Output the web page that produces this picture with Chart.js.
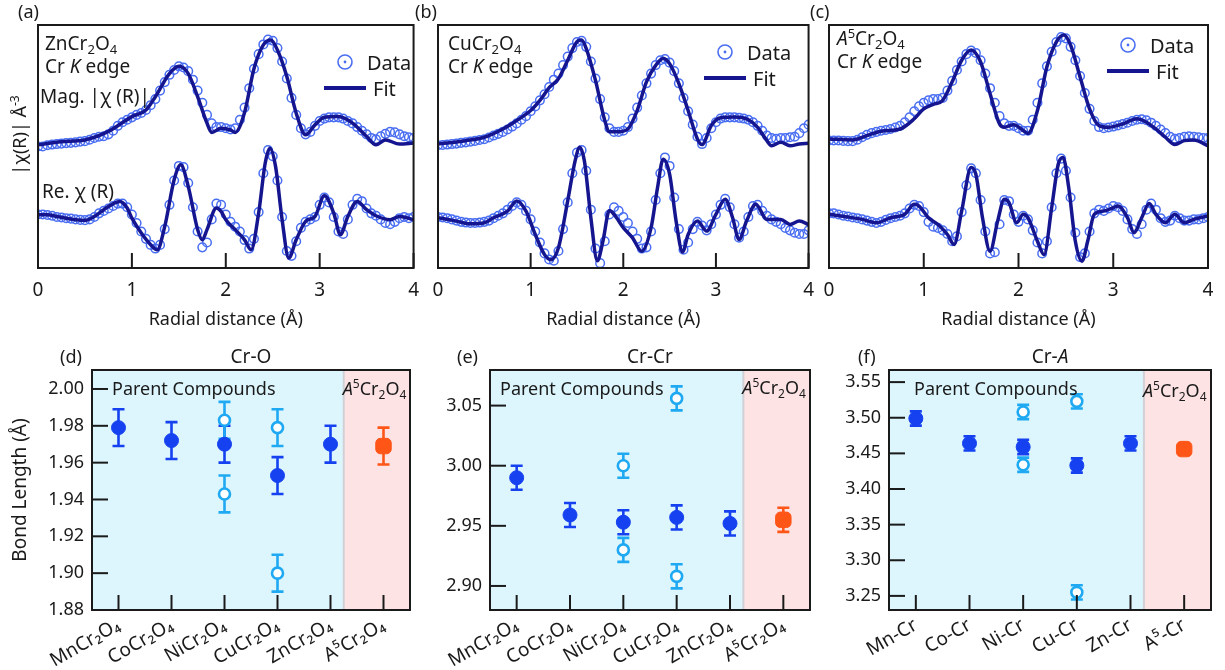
<!DOCTYPE html>
<html lang="en">
<head>
<meta charset="UTF-8" />
<title>Cr K-edge EXAFS fits and bond lengths</title>
<script src="https://cdn.jsdelivr.net/npm/chart.js"></script>
<style>
  body { margin: 0; background: #fff; width: 1225px; height: 670px; position: relative; overflow: hidden; }
  canvas { position: absolute; }
</style>
</head>
<body>
<canvas id="pa" style="left:0;top:0" width="430" height="340"></canvas>
<canvas id="pb" style="left:410px;top:0" width="415" height="340"></canvas>
<canvas id="pc" style="left:805px;top:0" width="420" height="340"></canvas>
<canvas id="pd" style="left:0;top:340px" width="420" height="330"></canvas>
<canvas id="pe" style="left:420px;top:340px" width="400" height="330"></canvas>
<canvas id="pf" style="left:820px;top:340px" width="405" height="330"></canvas>

<script>
// ---- EXAFS panels (arbitrary offset units, 0..10) ----
const rGrid = Array.from({ length: 81 }, (_, i) => +(i * 0.05).toFixed(2));
const rTicks = [0, 1, 2, 3, 4];

// ZnCr2O4
const magFitXA = [0,0.25,0.5,0.75,1.0,1.15,1.25,1.4,1.5,1.6,1.7,1.8,1.85,1.95,2.05,2.1,2.2,2.3,2.4,2.48,2.55,2.65,2.75,2.85,2.95,3.05,3.2,3.35,3.5,3.6,3.7,3.85,4.0];
const magFitYA = [5.07,5.2,5.27,5.62,6.23,6.5,7.05,8.0,8.3,8.0,7.05,5.96,5.58,5.75,5.68,5.58,6.4,8.2,9.18,9.38,8.97,7.88,6.37,5.48,5.89,6.2,6.23,5.96,5.41,5.07,5.27,5.1,5.14];
const reFitXA = [0,0.1,0.2,0.3,0.4,0.5,0.6,0.7,0.8,0.87,0.95,1.0,1.1,1.2,1.27,1.35,1.45,1.52,1.6,1.7,1.75,1.8,1.9,1.95,2.0,2.1,2.2,2.27,2.35,2.42,2.47,2.53,2.6,2.67,2.75,2.85,2.95,3.05,3.15,3.22,3.3,3.4,3.5,3.6,3.75,3.85,4.0];
const reFitYA = [2.19,2.19,2.12,2.05,1.99,1.96,2.12,2.40,2.64,2.74,2.47,2.05,1.44,0.96,0.75,1.71,3.63,4.25,3.36,1.58,1.16,1.58,2.47,2.33,1.99,1.58,1.16,0.75,2.26,4.32,4.93,4.18,1.99,0.41,1.16,1.92,2.12,2.97,2.26,1.37,2.12,2.74,2.40,2.15,1.99,2.12,1.99];
const magDataA = [5.0,5.0,5.05,5.08,5.1,5.12,5.14,5.15,5.17,5.2,5.22,5.28,5.35,5.4,5.42,5.5,5.65,5.85,6.0,6.1,6.2,6.3,6.38,6.5,6.7,6.95,7.3,7.65,7.95,8.15,8.3,8.25,8.1,7.75,7.3,6.8,6.3,5.95,5.8,5.8,5.75,5.7,5.75,6.1,6.6,7.4,8.2,8.8,9.2,9.4,9.35,9.05,8.5,7.8,7.0,6.3,5.75,5.5,5.6,5.85,6.05,6.15,6.2,6.2,6.2,6.15,6.05,5.95,5.8,5.65,5.5,5.35,5.3,5.42,5.52,5.6,5.58,5.5,5.42,5.38,5.35];
const reDataA = [2.2,2.2,2.18,2.15,2.1,2.08,2.05,2.03,2.0,1.98,1.97,2.0,2.1,2.25,2.35,2.45,2.55,2.65,2.65,2.5,2.2,1.85,1.5,1.2,0.95,0.8,0.95,1.6,2.6,3.6,4.2,4.15,3.5,2.5,1.5,0.85,1.05,2.0,2.65,2.6,2.2,1.9,1.7,1.5,1.15,0.8,1.2,2.3,3.9,4.85,4.6,3.6,2.1,0.7,0.5,1.1,1.65,1.9,2.0,2.1,2.6,2.9,2.7,2.1,1.5,1.4,2.0,2.6,2.85,2.75,2.45,2.25,2.15,2.0,1.85,1.8,1.9,2.05,2.1,2.05,2.1];

// CuCr2O4
const magFitXB = [0,0.3,0.5,0.7,0.85,1.0,1.1,1.2,1.3,1.4,1.5,1.55,1.6,1.7,1.8,1.85,1.95,2.05,2.15,2.25,2.35,2.43,2.5,2.6,2.7,2.8,2.85,2.95,3.05,3.2,3.35,3.45,3.55,3.6,3.7,3.8,3.9,4.0];
const magFitYB = [5.1,5.24,5.38,5.72,6.07,6.48,6.9,7.42,7.79,8.55,9.31,9.38,9.03,7.72,6.07,5.61,5.61,5.72,6.48,7.66,8.34,8.62,8.41,7.59,6.48,5.31,5.08,5.86,6.18,6.21,6.1,5.79,5.24,5.03,5.17,5.03,5.1,5.13];
const reFitXB = [0,0.2,0.35,0.5,0.6,0.75,0.85,0.95,1.05,1.15,1.22,1.3,1.4,1.48,1.53,1.58,1.65,1.72,1.78,1.85,1.9,2.0,2.1,2.2,2.3,2.37,2.43,2.5,2.57,2.64,2.7,2.8,2.9,3.0,3.1,3.18,3.25,3.33,3.43,3.55,3.7,3.8,3.9,4.0];
const reFitYB = [2.07,1.93,1.82,1.86,2.07,2.34,2.76,2.34,1.38,0.55,0.34,0.83,2.76,4.41,4.97,4.41,2.07,0.3,1.1,2.37,2.21,1.66,1.24,0.69,1.66,3.31,4.48,3.86,1.93,0.66,1.38,1.93,1.52,2.21,2.83,2.07,1.17,1.93,2.62,2.0,2.0,1.79,1.93,1.79];
const magDataB = [5.05,5.06,5.08,5.1,5.12,5.15,5.17,5.2,5.23,5.27,5.3,5.37,5.45,5.52,5.6,5.7,5.82,5.95,6.1,6.25,6.45,6.65,6.9,7.15,7.45,7.75,8.0,8.35,8.7,9.05,9.3,9.35,9.1,8.5,7.8,6.95,6.2,5.75,5.6,5.6,5.65,5.8,6.15,6.6,7.1,7.6,8.0,8.35,8.55,8.6,8.45,8.1,7.6,7.0,6.45,5.9,5.4,5.1,5.35,5.75,6.0,6.15,6.2,6.2,6.2,6.18,6.15,6.1,6.0,5.85,5.65,5.45,5.35,5.32,5.35,5.35,5.38,5.4,5.55,5.75,5.9];
const reDataB = [2.1,2.08,2.05,2.0,1.95,1.9,1.87,1.85,1.85,1.87,1.9,1.95,2.05,2.15,2.25,2.4,2.55,2.7,2.6,2.35,2.0,1.5,1.05,0.6,0.35,0.3,0.7,1.6,2.7,3.9,4.75,4.85,4.0,2.4,0.8,0.2,1.1,2.2,2.5,2.35,2.1,1.85,1.5,1.2,0.8,0.85,1.5,2.8,3.9,4.55,4.2,2.9,1.6,0.75,1.05,1.6,1.9,1.75,1.55,1.8,2.2,2.6,2.85,2.5,1.8,1.25,1.5,2.1,2.55,2.6,2.35,2.15,2.0,1.9,1.8,1.65,1.55,1.45,1.4,1.4,1.55];

// A5Cr2O4
const magFitXC = [0,0.25,0.4,0.55,0.75,0.9,1.0,1.1,1.2,1.3,1.4,1.5,1.6,1.7,1.8,1.85,1.95,2.05,2.1,2.2,2.3,2.4,2.48,2.55,2.65,2.75,2.85,2.95,3.1,3.25,3.35,3.45,3.55,3.65,3.75,3.85,4.0];
const magFitYC = [5.31,5.27,5.45,5.63,5.72,6.14,6.55,6.73,6.9,7.66,8.55,8.97,8.48,7.17,5.93,5.79,5.9,5.66,5.54,6.48,8.28,9.31,9.59,9.17,7.86,6.55,5.86,5.79,5.93,6.14,6.0,5.72,5.38,5.08,5.24,5.27,5.03];
const reFitXC = [0,0.2,0.35,0.5,0.65,0.8,0.9,0.95,1.05,1.15,1.25,1.32,1.4,1.5,1.55,1.62,1.7,1.78,1.85,1.9,1.98,2.05,2.1,2.2,2.27,2.35,2.42,2.47,2.53,2.6,2.67,2.73,2.8,2.9,3.0,3.05,3.15,3.22,3.3,3.38,3.45,3.55,3.65,3.75,3.85,4.0];
const reFitYC = [2.21,2.1,2.0,1.86,2.07,2.21,2.62,2.55,2.07,1.79,1.38,0.97,2.34,4.14,3.86,2.07,0.69,1.93,2.83,2.69,1.86,2.21,2.07,1.1,0.55,2.48,4.28,4.55,3.31,1.1,0.28,1.1,2.21,2.34,2.48,2.55,2.07,1.45,2.07,2.65,2.21,1.86,2.21,1.86,2.0,2.14];
const magDataC = [5.25,5.25,5.25,5.23,5.22,5.22,5.28,5.38,5.48,5.55,5.6,5.65,5.68,5.72,5.78,5.85,6.0,6.2,6.45,6.65,6.8,6.9,6.95,6.95,7.0,7.3,7.7,8.15,8.5,8.8,8.95,8.85,8.55,8.0,7.4,6.8,6.25,5.95,5.85,5.85,5.75,5.65,5.65,6.1,6.8,7.6,8.3,8.9,9.3,9.5,9.45,9.1,8.55,7.9,7.2,6.55,6.05,5.8,5.75,5.78,5.82,5.87,5.92,5.98,6.05,6.1,6.12,6.08,5.98,5.85,5.7,5.55,5.4,5.32,5.35,5.4,5.42,5.4,5.38,5.35,5.35];
const reDataC = [2.25,2.25,2.2,2.15,2.12,2.08,2.05,2.0,1.95,1.9,1.85,1.9,1.98,2.05,2.1,2.15,2.25,2.45,2.6,2.55,2.3,1.9,1.7,1.65,1.55,1.4,1.1,1.3,2.3,3.4,4.1,3.9,2.8,1.5,0.6,0.65,1.8,2.8,2.75,2.2,1.9,2.15,2.0,1.55,1.05,0.6,1.1,2.5,3.9,4.5,4.0,2.9,1.45,0.45,0.6,1.5,2.25,2.4,2.35,2.45,2.55,2.5,2.35,2.0,1.6,1.4,1.8,2.4,2.65,2.4,2.05,1.9,1.95,2.15,2.05,1.95,1.95,2.0,2.0,2.05,2.1];

// ---- bond length panels ----
const compoundLabels = ['MnCr₂O₄', 'CoCr₂O₄', 'NiCr₂O₄', 'CuCr₂O₄', 'ZnCr₂O₄', 'A⁵Cr₂O₄'];
const pairLabels = ['Mn-Cr', 'Co-Cr', 'Ni-Cr', 'Cu-Cr', 'Zn-Cr', 'A⁵-Cr'];

const crOParent = [1.979, 1.972, 1.970, 1.953, 1.970, null];
const crOSplitHi = [null, null, 1.983, 1.979, null, null];
const crOSplitLo = [null, null, 1.943, 1.900, null, null];
const crOA5 = [null, null, null, null, null, 1.969];
const crOTicks = [1.88, 1.90, 1.92, 1.94, 1.96, 1.98, 2.00];

const crCrParent = [2.990, 2.959, 2.953, 2.957, 2.952, null];
const crCrSplitHi = [null, null, 3.000, 3.056, null, null];
const crCrSplitLo = [null, null, 2.930, 2.908, null, null];
const crCrA5 = [null, null, null, null, null, 2.955];
const crCrTicks = [2.90, 2.95, 3.00, 3.05];

const crAParent = [3.499, 3.464, 3.459, 3.433, 3.464, null];
const crASplitHi = [null, null, 3.508, 3.523, null, null];
const crASplitLo = [null, null, 3.434, 3.255, null, null];
const crAA5 = [null, null, null, null, null, 3.456];
const crATicks = [3.25, 3.30, 3.35, 3.40, 3.45, 3.50, 3.55];

const parentErr = [0.010, 0.010, 0.010, 0.010, 0.010, null];
const splitErr = [null, null, 0.010, 0.010, null, null];
const a5Err = [null, null, null, null, null, 0.010];
const a5ErrCrA = [null, null, null, null, null, 0.006];

const FONT = "'Noto Sans', 'DejaVu Sans', sans-serif";
const INK = '#1a1a1a';
const FIT = '#15168f';
const DATA = '#4a6ef2';

// draws mixed text: parts = [[text, kind]], kind '', 'i', 'sub', 'sup'
function rich(ctx, x, y, parts, size, align) {
  const fontOf = k => (k === 'i' ? 'italic ' : '') +
    Math.round(k === 'sub' || k === 'sup' ? size * 0.68 : size) + 'px ' + FONT;
  let w = 0;
  parts.forEach(([t, k]) => { ctx.font = fontOf(k); w += ctx.measureText(t).width; });
  let cx = align === 'center' ? x - w / 2 : align === 'right' ? x - w : x;
  ctx.textAlign = 'left';
  ctx.textBaseline = 'alphabetic';
  ctx.fillStyle = INK;
  parts.forEach(([t, k]) => {
    ctx.font = fontOf(k);
    const dy = k === 'sub' ? size * 0.22 : k === 'sup' ? -size * 0.38 : 0;
    ctx.fillText(t, cx, y + dy);
    cx += ctx.measureText(t).width;
  });
}

function exafsDeco(cfg) {
  return {
    id: 'exafsDeco',
    afterDraw(chart) {
      const { ctx, chartArea: a, scales: { x } } = chart;
      ctx.save();
      ctx.strokeStyle = INK;
      ctx.lineWidth = 2;
      ctx.strokeRect(a.left, a.top, a.right - a.left, a.bottom - a.top);
      x.ticks.forEach(t => {
        const px = x.getPixelForValue(t.value);
        ctx.beginPath();
        ctx.moveTo(px, a.bottom);
        ctx.lineTo(px, a.bottom - 15);
        ctx.stroke();
      });
      cfg.texts.forEach(t => rich(ctx, t.x, t.y, t.parts, t.size || 19));
      // legend
      const L = cfg.legend;
      ctx.strokeStyle = DATA;
      ctx.lineWidth = 1.6;
      ctx.beginPath();
      ctx.arc(L.cx, L.cy, 7, 0, Math.PI * 2);
      ctx.stroke();
      ctx.fillStyle = DATA;
      ctx.beginPath();
      ctx.arc(L.cx, L.cy, 1.4, 0, Math.PI * 2);
      ctx.fill();
      rich(ctx, L.cx + 22, L.cy + 8, [['Data']], 20);
      ctx.strokeStyle = FIT;
      ctx.lineWidth = 4;
      ctx.beginPath();
      ctx.moveTo(L.cx - 21, L.cy + 26);
      ctx.lineTo(L.cx + 21, L.cy + 26);
      ctx.stroke();
      rich(ctx, L.cx + 28, L.cy + 34, [['Fit']], 20);
      if (cfg.yLabel) {
        ctx.translate(20, 135);
        ctx.rotate(-Math.PI / 2);
        rich(ctx, 0, 6, [['|χ(R)| Å'], ['-3', 'sup']], 18, 'center');
      }
      ctx.restore();
    }
  };
}

function exafsChart(id, pad, fits, datas, cfg) {
  const pts = (xs, ys) => xs.map((x, i) => ({ x, y: ys[i] }));
  const fitStyle = { borderColor: FIT, borderWidth: 3.5, pointRadius: 0, cubicInterpolationMode: 'monotone', fill: false };
  const dataStyle = { showLine: false, pointRadius: 4.3, pointBorderWidth: 1.5, pointBorderColor: DATA, pointBackgroundColor: 'rgba(0,0,0,0)', borderColor: DATA };
  new Chart(document.getElementById(id), {
    type: 'line',
    data: {
      datasets: [
        { data: pts(fits[0], fits[1]), ...fitStyle },
        { data: pts(fits[2], fits[3]), ...fitStyle },
        { data: pts(rGrid, datas[0]), ...dataStyle },
        { data: pts(rGrid, datas[1]), ...dataStyle }
      ]
    },
    options: {
      responsive: false,
      animation: false,
      layout: { padding: { left: pad[0], right: pad[1], top: 25, bottom: 0 } },
      plugins: { legend: { display: false }, tooltip: { enabled: false } },
      scales: {
        x: {
          type: 'linear', min: 0, max: 4,
          afterBuildTicks: s => { s.ticks = rTicks.map(v => ({ value: v })); },
          afterFit: s => { s.height = 72; },
          grid: { display: false, drawTicks: false },
          border: { display: false },
          ticks: { color: INK, font: { family: FONT, size: 19 }, padding: 11 },
          title: { display: true, text: 'Radial distance (Å)', color: INK, font: { family: FONT, size: 18 }, padding: { top: 0, bottom: 9 } }
        },
        y: { type: 'linear', min: 0, max: 10, display: false }
      }
    },
    plugins: [exafsDeco(cfg)]
  });
}

const A5 = [['A', 'i'], ['5', 'sup'], ['Cr'], ['2', 'sub'], ['O'], ['4', 'sub']];
const crK = [['Cr '], ['K', 'i'], [' edge']];

exafsChart('pa', [38, 12], [magFitXA, magFitYA, reFitXA, reFitYA], [magDataA, reDataA], {
  yLabel: true,
  legend: { cx: 345, cy: 62 },
  texts: [
    { x: 18, y: 18, parts: [['(a)']], size: 18 },
    { x: 45, y: 50, parts: [['ZnCr'], ['2', 'sub'], ['O'], ['4', 'sub']] },
    { x: 45, y: 73, parts: crK },
    { x: 40, y: 103, parts: [['Mag. |χ (R)|']] },
    { x: 42, y: 198, parts: [['Re. χ (R)']] }
  ]
});
exafsChart('pb', [28, 13], [magFitXB, magFitYB, reFitXB, reFitYB], [magDataB, reDataB], {
  legend: { cx: 315, cy: 52 },
  texts: [
    { x: 5, y: 18, parts: [['(b)']], size: 18 },
    { x: 38, y: 50, parts: [['CuCr'], ['2', 'sub'], ['O'], ['4', 'sub']] },
    { x: 38, y: 73, parts: crK }
  ]
});
exafsChart('pc', [24, 17], [magFitXC, magFitYC, reFitXC, reFitYC], [magDataC, reDataC], {
  legend: { cx: 323, cy: 45 },
  texts: [
    { x: 5, y: 18, parts: [['(c)']], size: 18 },
    { x: 32, y: 45, parts: A5 },
    { x: 32, y: 68, parts: crK }
  ]
});

// ---- bond length charts ----
const FILLED = '#1541f0';
const OPEN = '#1fa9f2';
const ORANGE = '#ff5618';
const SPLIT_INDEX = 4.25;

function bondDeco(cfg) {
  return {
    id: 'bondDeco',
    beforeDatasetsDraw(chart) {
      const { ctx, chartArea: a, scales: { x, y } } = chart;
      const xb = x.getPixelForValue(SPLIT_INDEX);
      ctx.save();
      ctx.fillStyle = '#ddf6fd';
      ctx.fillRect(a.left, a.top, xb - a.left, a.bottom - a.top);
      ctx.fillStyle = '#fde3e3';
      ctx.fillRect(xb, a.top, a.right - xb, a.bottom - a.top);
      ctx.strokeStyle = '#d0d0d6';
      ctx.lineWidth = 2;
      ctx.beginPath();
      ctx.moveTo(xb, a.top);
      ctx.lineTo(xb, a.bottom);
      ctx.stroke();
      chart.data.datasets.forEach((ds, di) => {
        const meta = chart.getDatasetMeta(di);
        ctx.strokeStyle = ds.pointBorderColor;
        ctx.lineWidth = 2.6;
        ds.data.forEach((v, i) => {
          if (v == null || ds.err[i] == null) return;
          const px = meta.data[i].x;
          const y1 = y.getPixelForValue(v + ds.err[i]);
          const y2 = y.getPixelForValue(v - ds.err[i]);
          ctx.beginPath();
          ctx.moveTo(px, y1); ctx.lineTo(px, y2);
          ctx.moveTo(px - 6, y1); ctx.lineTo(px + 6, y1);
          ctx.moveTo(px - 6, y2); ctx.lineTo(px + 6, y2);
          ctx.stroke();
        });
      });
      ctx.restore();
    },
    afterDraw(chart) {
      const { ctx, chartArea: a, scales: { x, y } } = chart;
      ctx.save();
      ctx.strokeStyle = INK;
      ctx.lineWidth = 2;
      ctx.strokeRect(a.left, a.top, a.right - a.left, a.bottom - a.top);
      x.ticks.forEach((t, i) => {
        const px = x.getPixelForValue(i);
        ctx.beginPath(); ctx.moveTo(px, a.bottom); ctx.lineTo(px, a.bottom - 15); ctx.stroke();
      });
      y.ticks.forEach(t => {
        const py = y.getPixelForValue(t.value);
        ctx.beginPath(); ctx.moveTo(a.left, py); ctx.lineTo(a.left + 16, py); ctx.stroke();
      });
      const xb = x.getPixelForValue(SPLIT_INDEX);
      rich(ctx, (a.left + a.right) / 2, a.top - 7, cfg.title, 19, 'center');
      rich(ctx, cfg.letterX, a.top - 7, [[cfg.letter]], 18);
      rich(ctx, a.left + cfg.parentDx, a.top + 25, [['Parent Compounds']], 18);
      rich(ctx, xb - 1, a.top + cfg.a5Dy, A5, 18);
      ctx.restore();
    }
  };
}

function bondChart(id, labels, series, range, ticks, cfg) {
  const pt = (data, err, color, opts) => ({ data, err, showLine: false, borderColor: color, pointBorderColor: color, ...opts });
  new Chart(document.getElementById(id), {
    type: 'line',
    data: {
      labels,
      datasets: [
        pt(series[0], parentErr, FILLED, { pointRadius: 7, pointBackgroundColor: FILLED, pointBorderWidth: 1 }),
        pt(series[1], splitErr, OPEN, { pointRadius: 5.5, pointBackgroundColor: '#ffffff', pointBorderWidth: 2.6 }),
        pt(series[2], splitErr, OPEN, { pointRadius: 5.5, pointBackgroundColor: '#ffffff', pointBorderWidth: 2.6 }),
        pt(series[3], cfg.a5Err, ORANGE, { pointStyle: 'rectRounded', pointRadius: 9, pointBackgroundColor: ORANGE, pointBorderWidth: 1 })
      ]
    },
    options: {
      responsive: false,
      animation: false,
      layout: { padding: { left: 0, right: cfg.padRight, top: 30, bottom: 0 } },
      plugins: { legend: { display: false }, tooltip: { enabled: false } },
      scales: {
        x: {
          type: 'category', offset: true,
          afterFit: s => { s.height = 60; },
          grid: { display: false, drawTicks: false },
          border: { display: false },
          ticks: { color: INK, font: { family: FONT, size: 19 }, autoSkip: false, minRotation: 30, maxRotation: 30, padding: 4 }
        },
        y: {
          type: 'linear', min: range[0], max: range[1],
          afterBuildTicks: s => { s.ticks = ticks.map(v => ({ value: v })); },
          afterFit: s => { s.width = cfg.yWidth; },
          grid: { display: false, drawTicks: false },
          border: { display: false },
          ticks: { color: INK, font: { family: FONT, size: 18 }, padding: 8, callback: v => v.toFixed(2) },
          title: { display: !!cfg.yTitle, text: cfg.yTitle || '', color: INK, font: { family: FONT, size: 19 }, padding: { top: 9, bottom: 0 } }
        }
      }
    },
    plugins: [bondDeco(cfg)]
  });
}

bondChart('pd', compoundLabels, [crOParent, crOSplitHi, crOSplitLo, crOA5], [1.88, 2.0103], crOTicks, {
  yWidth: 92, padRight: 5, yTitle: 'Bond Length (Å)', a5Err,
  title: [['Cr-O']], letter: '(d)', letterX: 60, parentDx: 20, a5Dy: 25
});
bondChart('pe', compoundLabels, [crCrParent, crCrSplitHi, crCrSplitLo, crCrA5], [2.880, 3.0796], crCrTicks, {
  yWidth: 70, padRight: 9, a5Err,
  title: [['Cr-Cr']], letter: '(e)', letterX: 37, parentDx: 10, a5Dy: 24
});
bondChart('pf', pairLabels, [crAParent, crASplitHi, crASplitLo, crAA5], [3.2302, 3.567], crATicks, {
  yWidth: 69, padRight: 14, a5Err: a5ErrCrA,
  title: [['Cr-'], ['A', 'i']], letter: '(f)', letterX: 38, parentDx: 25, a5Dy: 27
});
</script>
</body>
</html>
